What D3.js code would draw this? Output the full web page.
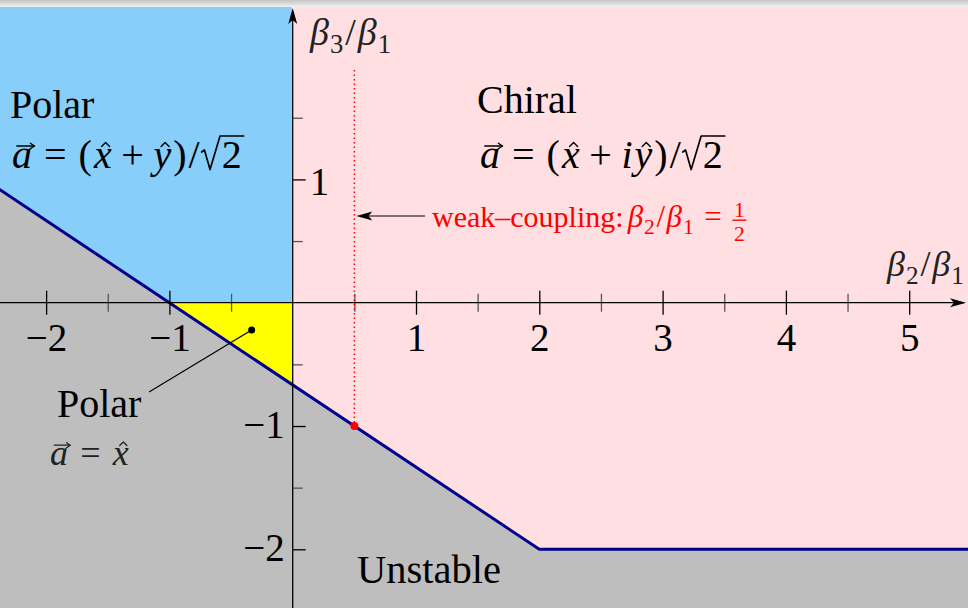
<!DOCTYPE html>
<html>
<head>
<meta charset="utf-8">
<script src="https://cdn.jsdelivr.net/npm/d3@7"></script>
<style>
  html, body { margin: 0; padding: 0; background: #fff; overflow: hidden; }
  svg { display: block; }
  text { font-family: "Liberation Serif", "Times New Roman", serif; }
</style>
</head>
<body>
<svg id="chart" width="968" height="608"></svg>
<script>
// ---- Axis ticks (β2/β1 horizontal, β3/β1 vertical) ----
const xMajorTicks = [-2, -1, 1, 2, 3, 4, 5];
const xMinorTicks = [-1.5, -0.5, 0.5, 1.5, 2.5, 3.5, 4.5];
const yMajorTicks = [1, -1, -2];
const yMinorTicks = [1.5, 0.5, -0.5, -1.5];

// ---- Phase boundary: β3/β1 versus β2/β1 ----
const boundaryB2 = [-2.5, -1, 2, 5.6];
const boundaryB3 = [1, 0, -2, -2];

// ---- Phase regions, vertices as [β2/β1, β3/β1] ----
const polarXYRegion = [[-2.5, 1], [-1, 0], [0, 0], [0, 2.6], [-2.5, 2.6]];
const polarXRegion  = [[-1, 0], [0, 0], [0, -0.667]];
const chiralRegion  = [[0, 2.6], [0, -0.667], [2, -2], [5.6, -2], [5.6, 2.6]];

// ---- Weak-coupling point and the marker inside the x-polar triangle ----
const weakCouplingB2 = 0.5;
const weakCouplingB3 = -1;
const weakCouplingTop = 1.887;
const polarXMarker = [-0.333, -0.222];
const polarXPointerEnd = [-1.165, -0.724];

const W = 968, H = 608;
const svg = d3.select("#chart");

const x = d3.scaleLinear().domain([-2.374, 5.477]).range([0, W]);
const y = d3.scaleLinear().domain([2.455, -2.476]).range([0, H]);

const pathOf = pts => d3.line().x(d => x(d[0])).y(d => y(d[1]))(pts) + "Z";
const intFmt = d3.format("d");

// ---- Regions ----
svg.append("rect").attr("width", W).attr("height", H).attr("fill", "#bebebe");
svg.append("path").attr("d", pathOf(chiralRegion)).attr("fill", "#ffdfe1");
svg.append("path").attr("d", pathOf(polarXYRegion)).attr("fill", "#87cefa")
  .attr("stroke", "#fff").attr("stroke-width", 1.6);
svg.append("path").attr("d", pathOf(polarXRegion)).attr("fill", "#ffff00")
  .attr("stroke", "#fff").attr("stroke-width", 1.2);

// ---- Phase boundary ----
svg.append("path")
  .attr("d", d3.line().x((d, i) => x(boundaryB2[i])).y(d => y(d))(boundaryB3))
  .attr("fill", "none").attr("stroke", "#00008b").attr("stroke-width", 3);

// ---- Window edge shading ----
const defs = svg.append("defs");
const grad = defs.append("linearGradient").attr("id", "edge").attr("x1", 0).attr("y1", 0).attr("x2", 0).attr("y2", 1);
grad.append("stop").attr("offset", "0%").attr("stop-color", "#c4c4c4");
grad.append("stop").attr("offset", "100%").attr("stop-color", "#f2f2f2");
svg.append("rect").attr("width", W).attr("height", 7).attr("fill", "url(#edge)");

// ---- Axes ----
const x0 = x(0), y0 = y(0);
const fsTick = 39;

const xAxis = svg.append("g").attr("transform", `translate(0,${y0})`)
  .call(d3.axisBottom(x).tickValues(xMajorTicks).tickFormat(intFmt).tickSize(12).tickPadding(9));
xAxis.select(".domain").remove();
xAxis.selectAll(".tick line").attr("y1", -12).attr("stroke", "#000").attr("stroke-width", 1.3);
xAxis.selectAll(".tick text").attr("font-size", fsTick).attr("fill", "#000")
  .attr("font-family", "Liberation Serif, serif");

const xMinor = svg.append("g").attr("transform", `translate(0,${y0})`)
  .call(d3.axisBottom(x).tickValues(xMinorTicks).tickSize(9).tickFormat(""));
xMinor.select(".domain").remove();
xMinor.selectAll(".tick line").attr("y1", -9).attr("stroke", "#555").attr("stroke-width", 1.3);

const yAxis = svg.append("g").attr("transform", `translate(${x0},0)`)
  .call(d3.axisLeft(y).tickValues(yMajorTicks).tickFormat(intFmt).tickSize(12).tickPadding(0));
yAxis.select(".domain").remove();
yAxis.selectAll(".tick line").attr("x2", 13).attr("stroke", "#000").attr("stroke-width", 1.3);
yAxis.selectAll(".tick text").attr("font-size", fsTick).attr("fill", "#000")
  .attr("font-family", "Liberation Serif, serif")
  .attr("text-anchor", d => d > 0 ? "start" : "end")
  .attr("x", d => d > 0 ? 17 : -8)
  .attr("dy", d => d > 0 ? "0.38em" : "0.29em");

const yMinor = svg.append("g").attr("transform", `translate(${x0},0)`)
  .call(d3.axisLeft(y).tickValues(yMinorTicks).tickSize(9).tickFormat(""));
yMinor.select(".domain").remove();
yMinor.selectAll(".tick line").attr("x2", 10).attr("stroke", "#555").attr("stroke-width", 1.3);

// axis lines with arrow heads
svg.append("line").attr("x1", 0).attr("x2", W - 4).attr("y1", y0).attr("y2", y0)
  .attr("stroke", "#000").attr("stroke-width", 1.3);
svg.append("path").attr("d", `M${W - 2},${y0} L${W - 18},${y0 - 4.5} L${W - 14},${y0} L${W - 18},${y0 + 4.5}Z`)
  .attr("fill", "#000");
svg.append("line").attr("x1", x0).attr("x2", x0).attr("y1", H).attr("y2", 12)
  .attr("stroke", "#000").attr("stroke-width", 1.3);
svg.append("path").attr("d", `M${x0},8 L${x0 - 4.5},24 L${x0},20 L${x0 + 4.5},24Z`).attr("fill", "#000");

// ---- Small math typesetter: runs of glyphs with accents, subscripts, radicals, fractions ----
function mathRow(parent, xs, base, fs, items, color) {
  const g = parent.append("g");
  let cx = xs;
  const mk = (txt, px, py, size, italic) => g.append("text")
    .attr("x", px).attr("y", py).attr("font-size", size)
    .attr("font-style", italic ? "italic" : "normal").attr("fill", color).text(txt);
  const stroke = (d, w) => g.append("path").attr("d", d).attr("fill", "none")
    .attr("stroke", color).attr("stroke-width", w).attr("stroke-linejoin", "round").attr("stroke-linecap", "round");
  items.forEach(it => {
    if (it.sp !== undefined) { cx += it.sp * fs; return; }
    if (it.sqrt) {
      const r = mk(it.sqrt, 0, base, fs, false);
      const w = r.node().getComputedTextLength();
      const rx = cx + 0.5 * fs;
      r.attr("x", rx);
      const top = base - 0.8 * fs;
      stroke(`M${cx},${base - 0.4 * fs} L${cx + 0.07 * fs},${base - 0.45 * fs} L${cx + 0.21 * fs},${base + 0.04 * fs} L${cx + 0.46 * fs},${top} L${rx + w + 0.05 * fs},${top}`, 0.042 * fs);
      cx = rx + w + 0.06 * fs;
      return;
    }
    if (it.frac) {
      const fz = 0.7 * fs;
      const n = mk(it.frac[0], 0, base - 0.32 * fs, fz, false);
      const d = mk(it.frac[1], 0, base + 0.45 * fs, fz, false);
      const nw = n.node().getComputedTextLength(), dw = d.node().getComputedTextLength();
      const w = Math.max(nw, dw) + 0.1 * fs;
      n.attr("x", cx + (w - nw) / 2);
      d.attr("x", cx + (w - dw) / 2);
      g.append("line").attr("x1", cx).attr("x2", cx + w)
        .attr("y1", base - 0.22 * fs).attr("y2", base - 0.22 * fs)
        .attr("stroke", color).attr("stroke-width", 0.045 * fs);
      cx += w + 0.05 * fs;
      return;
    }
    const t = mk(it.t, cx, base, fs, !!it.it);
    let w = t.node().getComputedTextLength();
    if (it.acc === "vec") {
      const ay = base - 0.55 * fs, a0 = cx + 0.12 * fs, a1 = cx + w + 0.06 * fs;
      stroke(`M${a0},${ay} L${a1},${ay}`, 0.035 * fs);
      stroke(`M${a1 - 0.1 * fs},${ay - 0.07 * fs} L${a1},${ay} L${a1 - 0.1 * fs},${ay + 0.07 * fs}`, 0.035 * fs);
    } else if (it.acc === "hat") {
      const hc = cx + w / 2 + 0.07 * fs, hy = base - 0.64 * fs;
      stroke(`M${hc - 0.1 * fs},${hy + 0.1 * fs} L${hc},${hy} L${hc + 0.1 * fs},${hy + 0.1 * fs}`, 0.035 * fs);
    }
    if (it.sub) {
      const s = mk(it.sub, cx + w + 0.03 * fs, base + 0.22 * fs, 0.7 * fs, false);
      w += s.node().getComputedTextLength() + 0.03 * fs;
    }
    cx += w;
  });
  return cx;
}

const ink = "#000";
const fsBig = 40;

// spacing of relations and binary operators
const rel = 0.3, bin = 0.24, pad = 0.05;

// axis titles
mathRow(svg, 310, 45, 38, [{ t: "β", it: 1, sub: "3" }, { sp: pad }, { t: "/" }, { sp: pad }, { t: "β", it: 1, sub: "1" }], "#222");
mathRow(svg, 887, 276, 36, [{ t: "β", it: 1, sub: "2" }, { sp: pad }, { t: "/" }, { sp: pad }, { t: "β", it: 1, sub: "1" }], "#222");

// Polar (x+y) label
svg.append("text").attr("x", 10).attr("y", 118).attr("font-size", fsBig).attr("fill", ink).text("Polar");
mathRow(svg, 12, 168, fsBig, [
  { t: "a", it: 1, acc: "vec" }, { sp: rel }, { t: "=" }, { sp: rel }, { t: "(" }, { sp: pad },
  { t: "x", it: 1, acc: "hat" }, { sp: bin }, { t: "+" }, { sp: bin }, { t: "y", it: 1, acc: "hat" },
  { sp: pad }, { t: ")" }, { sp: pad }, { t: "/" }, { sp: pad }, { sqrt: "2" }
], ink);

// Chiral label
svg.append("text").attr("x", 477).attr("y", 113).attr("font-size", fsBig).attr("fill", ink).text("Chiral");
mathRow(svg, 480, 168, fsBig, [
  { t: "a", it: 1, acc: "vec" }, { sp: rel }, { t: "=" }, { sp: rel }, { t: "(" }, { sp: pad },
  { t: "x", it: 1, acc: "hat" }, { sp: bin }, { t: "+" }, { sp: bin }, { t: "i", it: 1 }, { sp: pad },
  { t: "y", it: 1, acc: "hat" }, { sp: pad }, { t: ")" }, { sp: pad }, { t: "/" }, { sp: pad }, { sqrt: "2" }
], ink);

// Polar (x) label with pointer
svg.append("text").attr("x", 57).attr("y", 417).attr("font-size", fsBig).attr("fill", ink).text("Polar");
mathRow(svg, 50, 465, 36, [{ t: "a", it: 1, acc: "vec" }, { sp: 0.34 }, { t: "=" }, { sp: 0.34 }, { t: "x", it: 1, acc: "hat" }], "#222");
svg.append("line")
  .attr("x1", x(polarXMarker[0])).attr("y1", y(polarXMarker[1]))
  .attr("x2", x(polarXPointerEnd[0])).attr("y2", y(polarXPointerEnd[1]))
  .attr("stroke", "#000").attr("stroke-width", 1.2);
svg.append("circle").attr("cx", x(polarXMarker[0])).attr("cy", y(polarXMarker[1])).attr("r", 3.5).attr("fill", "#000");

// Unstable label
svg.append("text").attr("x", 357).attr("y", 583).attr("font-size", 40.5).attr("fill", ink).text("Unstable");

// ---- Weak-coupling marker ----
svg.append("line")
  .attr("x1", x(weakCouplingB2)).attr("x2", x(weakCouplingB2))
  .attr("y1", y(weakCouplingTop)).attr("y2", y(weakCouplingB3))
  .attr("stroke", "#ff0000").attr("stroke-width", 1.5).attr("stroke-dasharray", "1.5,3");
svg.append("circle").attr("cx", x(weakCouplingB2)).attr("cy", y(weakCouplingB3)).attr("r", 4).attr("fill", "#ff0000");

const arrowY = 216;
svg.append("line").attr("x1", 425).attr("x2", x(weakCouplingB2) + 10).attr("y1", arrowY).attr("y2", arrowY)
  .attr("stroke", "#000").attr("stroke-width", 1.2);
const tip = x(weakCouplingB2) + 2;
svg.append("path").attr("d", `M${tip},${arrowY} L${tip + 16},${arrowY - 4.5} L${tip + 12},${arrowY} L${tip + 16},${arrowY + 4.5}Z`).attr("fill", "#000");

const wc = svg.append("text").attr("x", 432).attr("y", 227).attr("font-size", 30).attr("fill", "#ff0000").text("weak–coupling:");
const wcEnd = 432 + wc.node().getComputedTextLength() + 4;
mathRow(svg, wcEnd, 227, 31, [
  { t: "β", it: 1, sub: "2" }, { sp: pad }, { t: "/" }, { sp: pad }, { t: "β", it: 1, sub: "1" }, { sp: 0.34 }, { t: "=" }, { sp: 0.34 },
  { frac: ["1", "2"] }
], "#ff0000");
</script>
</body>
</html>
